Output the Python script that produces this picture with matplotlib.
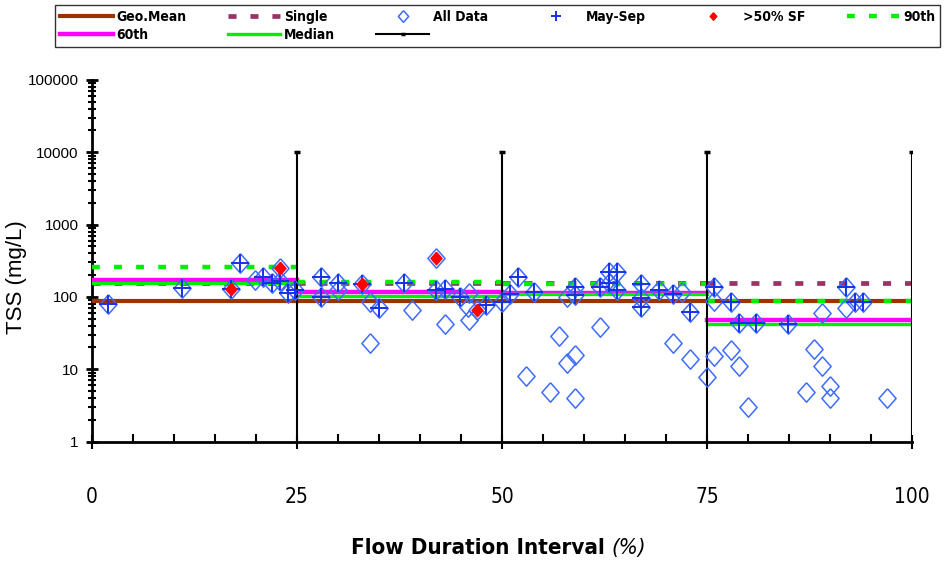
import numpy as np
import matplotlib
matplotlib.use("Agg")
import matplotlib.pyplot as plt
from matplotlib import font_manager as fm
from matplotlib.ticker import FixedLocator, NullFormatter

plt.rcParams['font.family'] = ['Liberation Sans', 'DejaVu Sans']
plt.rcParams['lines.scale_dashes'] = False

# pick a narrow face if one is installed
files = [f.fname for f in fm.fontManager.ttflist]
if any('LiberationSansNarrow' in f for f in files):
    NARROW = dict(family=['Liberation Sans Narrow', 'DejaVu Sans'])
elif any('DejaVuSansCondensed' in f for f in files):
    NARROW = dict(family=['DejaVu Sans'], stretch='condensed')
else:
    NARROW = dict(family=['Liberation Sans', 'DejaVu Sans'])

# --- data ---
zones = [(0, 25), (25, 50), (50, 75), (75, 100)]
geo_mean = [89, 89, 89, 89]
single = [158, 158, 158, 158]
pct90 = [257, 159, 151, 88]
pct60 = [171, 118, 112, 48]
median = [154, 103, 108, 42]
zone_bounds = [25, 50, 75, 100]
zone_top = 10000

all_x = [1.9, 11.0, 17.0, 18.0, 19.9, 20.9, 21.9, 22.9, 22.9, 23.9, 24.8, 27.9, 27.9,
         30.0, 30.0, 32.9, 33.9, 35.0, 33.9, 38.0, 39.0, 41.9, 41.9, 43.0, 43.0, 44.9,
         46.0, 45.9, 46.0, 47.0, 48.1, 50.0, 51.0, 52.0, 52.9, 53.9, 55.9, 57.0, 57.9,
         57.9, 58.9, 58.9, 58.9, 58.9, 61.9, 61.9, 63.0, 63.0, 64.0, 64.0, 67.0, 67.0,
         67.0, 69.1, 70.9, 70.9, 72.0, 72.9, 72.9, 75.0, 75.9, 75.9, 75.9, 77.9, 77.9,
         78.9, 78.9, 80.0, 81.0, 84.9, 87.1, 88.0, 89.0, 89.0, 90.0, 90.0, 91.9, 91.9,
         93.0, 94.0, 96.9]
all_y = [79, 134, 129, 292, 171, 187, 157, 253, 165, 112, 124, 190, 99,
         154, 124, 150, 86, 70, 23, 155, 66, 345, 124, 130, 42, 99,
         112, 73, 48, 66, 76, 86, 110, 188, 8, 118, 4.9, 29, 12,
         101, 15.5, 3.95, 138, 106, 38.5, 137, 220, 154, 220, 124, 150, 95,
         73, 124, 110, 23.3, 115, 61, 13.8, 7.9, 137, 88, 15, 86, 18.5,
         43, 11, 3.0, 43, 42, 4.9, 18.8, 60, 11, 5.9, 3.95, 137, 70,
         84, 86, 3.95]

may_sep_x = [1.9, 11.0, 17.0, 18.0, 20.9, 21.9, 22.9, 23.9, 24.8, 27.9, 27.9, 30.0,
             32.9, 35.0, 38.0, 41.9, 43.0, 44.9, 48.1, 50.0, 51.0, 52.0, 53.9, 58.9,
             58.9, 61.9, 63.0, 63.0, 64.0, 64.0, 67.0, 67.0, 67.0, 69.1, 70.9, 72.9,
             75.9, 77.9, 78.9, 81.0, 84.9, 91.9, 93.0, 94.0]
may_sep_y = [79, 134, 129, 292, 187, 157, 165, 112, 124, 190, 99, 154,
             150, 70, 155, 124, 130, 99, 76, 86, 110, 188, 118, 138,
             106, 137, 220, 154, 220, 124, 150, 95, 73, 124, 110, 61,
             137, 86, 43, 43, 42, 137, 84, 86]

sf_x = [17.0, 22.9, 32.9, 41.9, 47.0]
sf_y = [129, 253, 150, 345, 66]

# slightly tall diamond, like the original markers
DIAMOND = [(0, 1.13), (1, 0), (0, -1.13), (-1, 0), (0, 1.13)]

fig = plt.figure(figsize=(9.44, 5.63), dpi=100)
ax = fig.add_axes([0.0975, 0.2158, 0.8686, 0.6422])

def zone_lines(vals, **kw):
    xs, ys = [], []
    for (a, b), v in zip(zones, vals):
        xs += [a, b, np.nan]
        ys += [v, v, np.nan]
    return ax.plot(xs, ys, **kw)[0]

h_single = zone_lines(single, color='#993366', lw=3.4, dashes=(5.8, 10.0), zorder=2)
h_geo = zone_lines(geo_mean, color='#993300', lw=3.0, zorder=3)
h_60 = zone_lines(pct60, color='#ff00ff', lw=3.2, zorder=3)
h_med = zone_lines(median, color='#00ee00', lw=2.4, zorder=3)
h_90 = zone_lines(pct90, color='#00ee00', lw=3.2, dashes=(5.6, 10.3), zorder=4)

for xb in zone_bounds:
    h_bound, = ax.plot([xb, xb], [1, zone_top], color='black', lw=1.5,
                       marker='_', markevery=[1], ms=5, mew=2.5, zorder=4)

h_all, = ax.plot(all_x, all_y, ls='none', marker=DIAMOND, ms=14, mfc='none',
                 mec='#3f6cff', mew=1.1, zorder=5)
h_ms, = ax.plot(may_sep_x, may_sep_y, ls='none', marker='+', ms=13, mew=1.4,
                color='#1530e8', zorder=6)
h_sf, = ax.plot(sf_x, sf_y, ls='none', marker=DIAMOND, ms=9, color='#ff0000',
                mec='#ff0000', zorder=7)

ax.set_yscale('log')
ax.set_xlim(0, 100)
ax.set_ylim(1, 100000)
ax.set_yticks([1, 10, 100, 1000, 10000, 100000])
ax.set_yticklabels(['1', '10', '100', '1000', '10000', '100000'])
ax.yaxis.set_minor_locator(FixedLocator(
    [m * 10 ** e for e in range(0, 5) for m in range(2, 10)]))
ax.yaxis.set_minor_formatter(NullFormatter())
ax.set_xticks([0, 25, 50, 75, 100])
ax.set_xticklabels(['0', '25', '50', '75', '100'], fontsize=15, **NARROW)
ax.xaxis.set_minor_locator(FixedLocator(np.arange(5, 100, 5)))

ax.tick_params(axis='y', which='major', direction='inout', length=9, width=2,
               labelsize=11, pad=5)
ax.tick_params(axis='y', which='minor', direction='inout', length=6, width=1.5)
ax.tick_params(axis='x', which='major', direction='inout', length=10, width=1.5,
               pad=28)
ax.tick_params(axis='x', which='minor', direction='in', length=6, width=1.5)

for s in ['top', 'right']:
    ax.spines[s].set_visible(False)
for s in ['left', 'bottom']:
    ax.spines[s].set_linewidth(2)

ax.set_ylabel('TSS (mg/L)', fontsize=16)
ax.yaxis.set_label_coords(-0.079, 0.455)

# x label: plain part + italic "(%)", centred as one piece
t1 = ax.text(0.5, -0.295, 'Flow Duration Interval ', transform=ax.transAxes,
             ha='left', va='center', fontsize=16, fontweight='bold', **NARROW)
t2 = ax.annotate('(%)', xy=(1, 0.5), xycoords=t1, va='center', ha='left',
                 fontsize=16, fontstyle='italic', **NARROW)
fig.canvas.draw()
r = fig.canvas.get_renderer()
w = (t1.get_window_extent(r).width + t2.get_window_extent(r).width) / ax.bbox.width
t1.set_x(0.496 - w / 2)

handles = [h_geo, h_60, h_single, h_med, h_all, h_bound, h_ms, h_sf, h_90]
labels = ['Geo.Mean', '60th', 'Single', 'Median', 'All Data', ' ', 'May-Sep',
          '>50% SF', '90th']
prop = dict(size=10, weight='bold')
prop.update(NARROW)
leg = fig.legend(handles, labels, ncol=6, loc='lower left',
                 bbox_to_anchor=(55 / 944, 1 - 47 / 563, 885 / 944, 42 / 563),
                 mode='expand', borderaxespad=0, frameon=True, fancybox=False,
                 edgecolor='black', handlelength=3.8, handletextpad=0.25,
                 borderpad=0.35, labelspacing=0.3, markerscale=0.6, prop=prop)
leg.get_frame().set_linewidth(1.0)

fig.savefig('out.png', dpi=100)
